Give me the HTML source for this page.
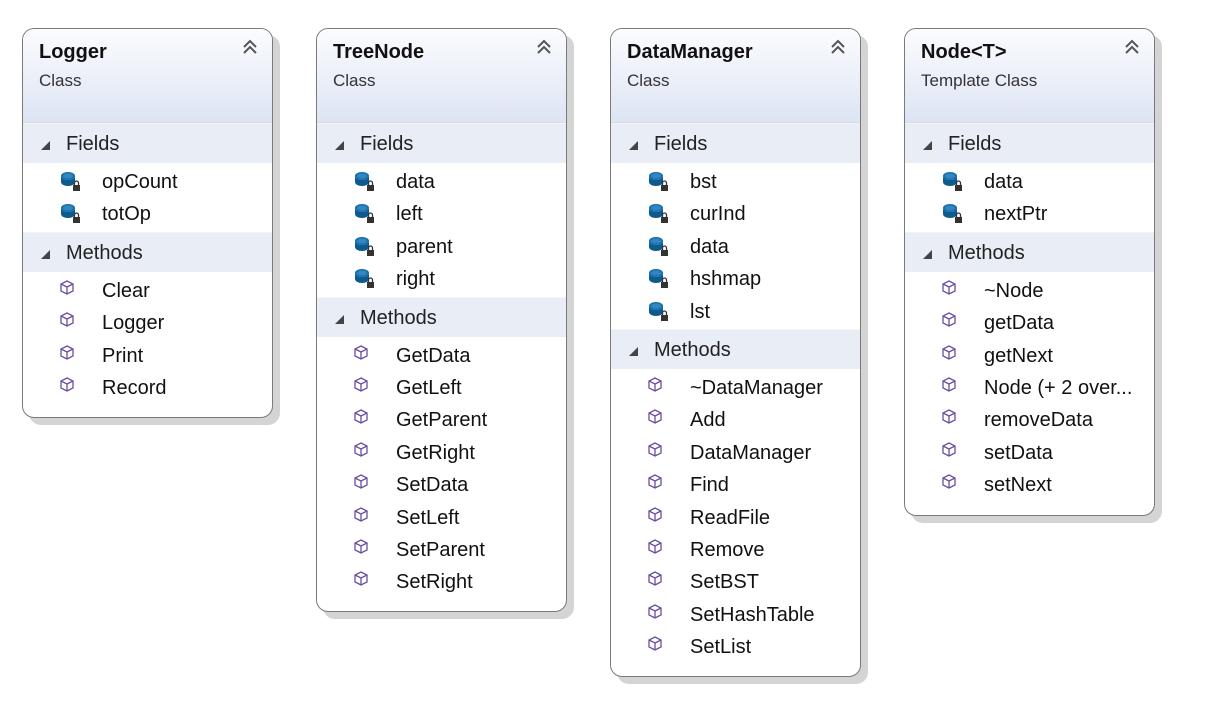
<!DOCTYPE html>
<html><head><meta charset="utf-8"><style>
body{margin:0;width:1205px;height:712px;background:#fff;position:relative;overflow:hidden;font-family:"Liberation Sans",sans-serif;}
.box{position:absolute;top:28px;width:249px;border:1px solid #7a7a7a;border-radius:12px;background:#fff;box-shadow:7px 7px 0 #d4d4d4;overflow:hidden;}
.hd{height:93px;border-bottom:1px solid #d7dbe3;background:linear-gradient(#fbfcfe,#dde4f3);position:relative;}
.t{position:absolute;left:16px;top:12px;font-weight:bold;font-size:20px;color:#111;}
.s{position:absolute;left:16px;top:42px;font-size:17px;color:#333;}
.ch{position:absolute;left:218px;top:8px;}
.sec{height:39px;background:#e9edf6;position:relative;border-top:1px solid #f4f4f4;}
.sec .tri{position:absolute;left:18px;top:17px;width:0;height:0;border-left:9px solid transparent;border-bottom:9px solid #444;}
.sec span{position:absolute;left:43px;top:9px;font-size:20px;color:#222;}
.rows{padding:3px 0 1px;}
.r{height:32.4px;position:relative;font-size:20px;color:#111;}
.r span{position:absolute;left:79px;top:5px;}
.r svg{position:absolute;left:37px;top:5px;}
</style></head><body>

<svg width="0" height="0" style="position:absolute">
<defs>
<g id="fi">
<ellipse cx="8" cy="5" rx="7" ry="4" fill="#1a6fa8"/>
<path d="M1 5 v6 a7 4 0 0 0 14 0 v-6 a7 4 0 0 1 -14 0z" fill="#0d5a8f"/>
<ellipse cx="8" cy="5" rx="5" ry="2.5" fill="#2f87c4"/>
<rect x="13" y="14" width="7" height="6" fill="#333"/>
<path d="M14.5 14 v-2 a2 2 0 0 1 4 0 v2" fill="none" stroke="#333" stroke-width="1.3"/>
</g>
<g id="mi" fill="none" stroke="#6b4ea0" stroke-width="1.3">
<path d="M7 1 L13 4 L13 11 L7 14 L1 11 L1 4 Z"/>
<path d="M1 4 L7 7 L13 4 M7 7 L7 14"/>
</g>
<g id="cv" fill="none" stroke="#555" stroke-width="2">
<path d="M3 10 L9 4 L15 10 M3 16 L9 10 L15 16"/>
</g>
</defs></svg>

<div class="box" style="left:22px;height:388px;">
<div class="hd"><div class="t">Logger</div><div class="s">Class</div><svg class="ch" width="18" height="18"><use href="#cv"/></svg></div>
<div class="sec"><div class="tri"></div><span>Fields</span></div>
<div class="rows">
<div class="r"><svg width="22" height="22"><use href="#fi"/></svg><span>opCount</span></div>
<div class="r"><svg width="22" height="22"><use href="#fi"/></svg><span>totOp</span></div>
</div>
<div class="sec"><div class="tri"></div><span>Methods</span></div>
<div class="rows">
<div class="r"><svg width="16" height="16"><use href="#mi"/></svg><span>Clear</span></div>
<div class="r"><svg width="16" height="16"><use href="#mi"/></svg><span>Logger</span></div>
<div class="r"><svg width="16" height="16"><use href="#mi"/></svg><span>Print</span></div>
<div class="r"><svg width="16" height="16"><use href="#mi"/></svg><span>Record</span></div>
</div>
</div>

<div class="box" style="left:316px;height:582px;">
<div class="hd"><div class="t">TreeNode</div><div class="s">Class</div><svg class="ch" width="18" height="18"><use href="#cv"/></svg></div>
<div class="sec"><div class="tri"></div><span>Fields</span></div>
<div class="rows">
<div class="r"><svg width="22" height="22"><use href="#fi"/></svg><span>data</span></div>
<div class="r"><svg width="22" height="22"><use href="#fi"/></svg><span>left</span></div>
<div class="r"><svg width="22" height="22"><use href="#fi"/></svg><span>parent</span></div>
<div class="r"><svg width="22" height="22"><use href="#fi"/></svg><span>right</span></div>
</div>
<div class="sec"><div class="tri"></div><span>Methods</span></div>
<div class="rows">
<div class="r"><svg width="16" height="16"><use href="#mi"/></svg><span>GetData</span></div>
<div class="r"><svg width="16" height="16"><use href="#mi"/></svg><span>GetLeft</span></div>
<div class="r"><svg width="16" height="16"><use href="#mi"/></svg><span>GetParent</span></div>
<div class="r"><svg width="16" height="16"><use href="#mi"/></svg><span>GetRight</span></div>
<div class="r"><svg width="16" height="16"><use href="#mi"/></svg><span>SetData</span></div>
<div class="r"><svg width="16" height="16"><use href="#mi"/></svg><span>SetLeft</span></div>
<div class="r"><svg width="16" height="16"><use href="#mi"/></svg><span>SetParent</span></div>
<div class="r"><svg width="16" height="16"><use href="#mi"/></svg><span>SetRight</span></div>
</div>
</div>

<div class="box" style="left:610px;height:647px;">
<div class="hd"><div class="t">DataManager</div><div class="s">Class</div><svg class="ch" width="18" height="18"><use href="#cv"/></svg></div>
<div class="sec"><div class="tri"></div><span>Fields</span></div>
<div class="rows">
<div class="r"><svg width="22" height="22"><use href="#fi"/></svg><span>bst</span></div>
<div class="r"><svg width="22" height="22"><use href="#fi"/></svg><span>curInd</span></div>
<div class="r"><svg width="22" height="22"><use href="#fi"/></svg><span>data</span></div>
<div class="r"><svg width="22" height="22"><use href="#fi"/></svg><span>hshmap</span></div>
<div class="r"><svg width="22" height="22"><use href="#fi"/></svg><span>lst</span></div>
</div>
<div class="sec"><div class="tri"></div><span>Methods</span></div>
<div class="rows">
<div class="r"><svg width="16" height="16"><use href="#mi"/></svg><span>~DataManager</span></div>
<div class="r"><svg width="16" height="16"><use href="#mi"/></svg><span>Add</span></div>
<div class="r"><svg width="16" height="16"><use href="#mi"/></svg><span>DataManager</span></div>
<div class="r"><svg width="16" height="16"><use href="#mi"/></svg><span>Find</span></div>
<div class="r"><svg width="16" height="16"><use href="#mi"/></svg><span>ReadFile</span></div>
<div class="r"><svg width="16" height="16"><use href="#mi"/></svg><span>Remove</span></div>
<div class="r"><svg width="16" height="16"><use href="#mi"/></svg><span>SetBST</span></div>
<div class="r"><svg width="16" height="16"><use href="#mi"/></svg><span>SetHashTable</span></div>
<div class="r"><svg width="16" height="16"><use href="#mi"/></svg><span>SetList</span></div>
</div>
</div>

<div class="box" style="left:904px;height:486px;">
<div class="hd"><div class="t">Node&lt;T&gt;</div><div class="s">Template Class</div><svg class="ch" width="18" height="18"><use href="#cv"/></svg></div>
<div class="sec"><div class="tri"></div><span>Fields</span></div>
<div class="rows">
<div class="r"><svg width="22" height="22"><use href="#fi"/></svg><span>data</span></div>
<div class="r"><svg width="22" height="22"><use href="#fi"/></svg><span>nextPtr</span></div>
</div>
<div class="sec"><div class="tri"></div><span>Methods</span></div>
<div class="rows">
<div class="r"><svg width="16" height="16"><use href="#mi"/></svg><span>~Node</span></div>
<div class="r"><svg width="16" height="16"><use href="#mi"/></svg><span>getData</span></div>
<div class="r"><svg width="16" height="16"><use href="#mi"/></svg><span>getNext</span></div>
<div class="r"><svg width="16" height="16"><use href="#mi"/></svg><span>Node (+ 2 over...</span></div>
<div class="r"><svg width="16" height="16"><use href="#mi"/></svg><span>removeData</span></div>
<div class="r"><svg width="16" height="16"><use href="#mi"/></svg><span>setData</span></div>
<div class="r"><svg width="16" height="16"><use href="#mi"/></svg><span>setNext</span></div>
</div>
</div>

</body></html>
